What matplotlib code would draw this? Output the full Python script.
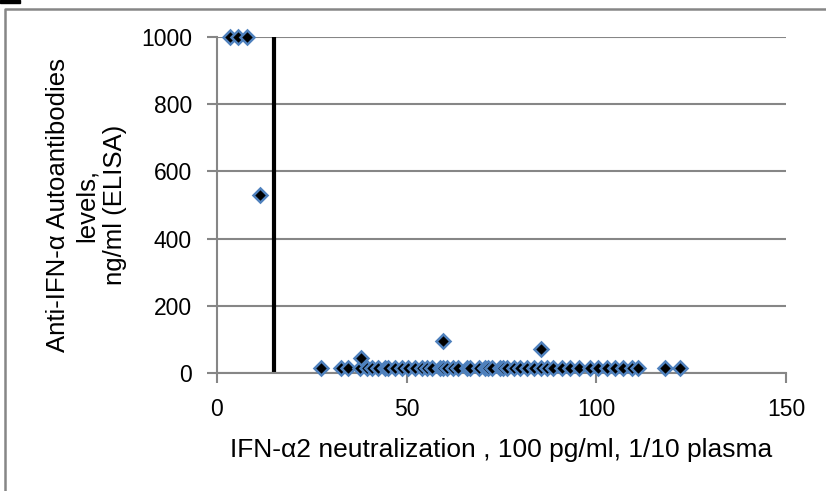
import numpy as np
import matplotlib.pyplot as plt
from matplotlib.lines import Line2D
from matplotlib.patches import Rectangle

plt.rcParams['font.family'] = ['Liberation Sans', 'DejaVu Sans']

# neutralization (%) vs ELISA level (ng/ml)
x_high = [3.5, 5.5, 8.0, 11.3]
y_high = [1000, 1000, 1000, 530]

x_mid = [38.0, 59.5, 85.5]
y_mid = [45, 95, 70]

x_low = [27.3, 32.6, 34.6, 37.8, 39.5, 40.8, 42.4, 44.3, 45.1, 46.9, 48.7,
         50.4, 52.2, 54.0, 55.3, 56.6, 58.8, 59.6, 60.6, 62.3, 63.6, 65.9,
         66.7, 69.0, 70.7, 71.4, 72.5, 74.7, 75.5, 76.5, 78.2, 80.0, 81.7,
         83.5, 85.3, 87.1, 88.7, 90.9, 93.1, 95.3, 98.3, 100.5, 102.7,
         104.9, 107.1, 109.3, 111.1, 118.1, 122.0]
y_low = [15] * len(x_low)

cutoff = 15
xticks = [0, 50, 100, 150]
yticks = [0, 200, 400, 600, 800, 1000]

xs = x_high + x_low + x_mid
ys = y_high + y_low + y_mid

gris = "#868686"

fig = plt.figure(figsize=(8.26, 4.91), dpi=100)
ax = fig.add_axes([0.2627, 0.2403, 0.6889, 0.6843])

ax.plot([cutoff, cutoff], [0, 1000], color="black", lw=3, zorder=2)
ax.plot(xs, ys, linestyle="none", marker="D", markersize=7.2,
        markerfacecolor="black", markeredgecolor="#4F81BD",
        markeredgewidth=1.8, zorder=3, clip_on=False)

ax.set_xlim(0, 150)
ax.set_ylim(0, 1000)
ax.set_xticks(xticks)
ax.set_yticks(yticks)
ax.yaxis.grid(True, color=gris, lw=1.5)
ax.set_axisbelow(True)

for s in ["top", "right"]:
    ax.spines[s].set_visible(False)
for s in ["left", "bottom"]:
    ax.spines[s].set_color(gris)
    ax.spines[s].set_linewidth(1.5)

ax.tick_params(axis="both", colors=gris, width=1.5, length=7,
               labelsize=16.5, labelcolor="black", pad=11)

ax.set_xlabel("IFN-α2 neutralization , 100 pg/ml, 1/10 plasma",
              fontsize=19, labelpad=12)
ax.set_ylabel("Anti-IFN-α Autoantibodies\nlevels,\nng/ml (ELISA)",
              fontsize=18.5, labelpad=10, linespacing=1.25)

# outer frame (cut at bottom/right) and the clipped panel letter
fig.add_artist(Line2D([5 / 826, 5 / 826, 1.0], [0.0, 1 - 9 / 491, 1 - 9 / 491],
                      transform=fig.transFigure, color=gris, lw=1.8))
fig.add_artist(Rectangle((0, 1 - 3 / 491), 20 / 826, 3 / 491,
                         transform=fig.transFigure, color="black"))

fig.savefig("out.png", dpi=100)
